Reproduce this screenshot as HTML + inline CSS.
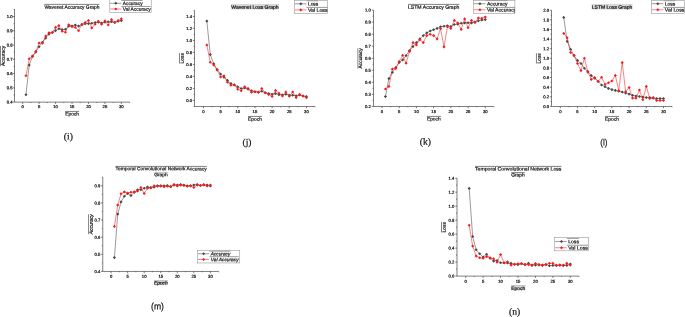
<!DOCTYPE html>
<html><head><meta charset="utf-8"><title>Figure</title>
<style>
html,body{margin:0;padding:0;background:#fff;}
svg{display:block;font-family:"Liberation Sans",sans-serif;}
svg text{fill:#111;stroke:#111;stroke-width:0.2px;}
svg text.t{stroke-width:0.22px;}
</style></head>
<body>
<svg width="685" height="317" viewBox="0 0 685 317">
<rect width="685" height="317" fill="#fff"/>
<g><path d="M14.5 9.10V102.15H129.61" fill="none" stroke="#2a2a2a" stroke-width="0.6"/>
<path d="M22.65 102.15v1.8M39.10 102.15v1.8M55.56 102.15v1.8M72.02 102.15v1.8M88.47 102.15v1.8M104.92 102.15v1.8M121.38 102.15v1.8M30.88 102.15v0.8M47.33 102.15v0.8M63.79 102.15v0.8M80.24 102.15v0.8M96.70 102.15v0.8M113.15 102.15v0.8M129.61 102.15v0.8M14.5 16.55h-1.7M14.5 30.81h-1.7M14.5 45.07h-1.7M14.5 59.33h-1.7M14.5 73.58h-1.7M14.5 87.84h-1.7M14.5 102.10h-1.7M14.5 23.68h-0.9M14.5 37.94h-0.9M14.5 52.20h-0.9M14.5 66.45h-0.9M14.5 80.71h-0.9M14.5 94.97h-0.9M14.5 9.42h-0.9" fill="none" stroke="#2a2a2a" stroke-width="0.6"/>
<text x="22.65" y="108.05" transform="rotate(0.06 22.65 108.05)" font-size="4.2" text-anchor="middle" class="t">0</text>
<text x="39.10" y="108.05" transform="rotate(0.06 39.10 108.05)" font-size="4.2" text-anchor="middle" class="t">5</text>
<text x="55.56" y="108.05" transform="rotate(0.06 55.56 108.05)" font-size="4.2" text-anchor="middle" class="t">10</text>
<text x="72.02" y="108.05" transform="rotate(0.06 72.02 108.05)" font-size="4.2" text-anchor="middle" class="t">15</text>
<text x="88.47" y="108.05" transform="rotate(0.06 88.47 108.05)" font-size="4.2" text-anchor="middle" class="t">20</text>
<text x="104.92" y="108.05" transform="rotate(0.06 104.92 108.05)" font-size="4.2" text-anchor="middle" class="t">25</text>
<text x="121.38" y="108.05" transform="rotate(0.06 121.38 108.05)" font-size="4.2" text-anchor="middle" class="t">30</text>
<text x="12.50" y="18.05" transform="rotate(0.06 12.50 18.05)" font-size="4.2" text-anchor="end" class="t">1.0</text>
<text x="12.50" y="32.31" transform="rotate(0.06 12.50 32.31)" font-size="4.2" text-anchor="end" class="t">0.9</text>
<text x="12.50" y="46.57" transform="rotate(0.06 12.50 46.57)" font-size="4.2" text-anchor="end" class="t">0.8</text>
<text x="12.50" y="60.83" transform="rotate(0.06 12.50 60.83)" font-size="4.2" text-anchor="end" class="t">0.7</text>
<text x="12.50" y="75.08" transform="rotate(0.06 12.50 75.08)" font-size="4.2" text-anchor="end" class="t">0.6</text>
<text x="12.50" y="89.34" transform="rotate(0.06 12.50 89.34)" font-size="4.2" text-anchor="end" class="t">0.5</text>
<text x="12.50" y="103.60" transform="rotate(0.06 12.50 103.60)" font-size="4.2" text-anchor="end" class="t">0.4</text>
<path d="M25.94 94.80L29.23 65.10L32.52 56.00L35.81 51.50L39.10 46.70L42.40 42.20L45.69 38.10L48.98 34.10L52.27 32.50L55.56 30.60L58.85 28.80L62.14 29.60L65.43 29.30L68.72 26.10L72.02 26.10L75.31 25.00L78.60 26.10L81.89 24.80L85.18 23.70L88.47 23.60L91.76 23.30L95.05 22.50L98.34 22.10L101.63 23.10L104.92 22.10L108.22 21.80L111.51 21.70L114.80 22.50L118.09 21.30L121.38 20.60" fill="none" stroke="#484848" stroke-width="0.55" stroke-linejoin="round"/>
<path d="M24.39 94.80L25.94 93.25L27.49 94.80L25.94 96.35ZM27.68 65.10L29.23 63.55L30.78 65.10L29.23 66.65ZM30.97 56.00L32.52 54.45L34.07 56.00L32.52 57.55ZM34.26 51.50L35.81 49.95L37.36 51.50L35.81 53.05ZM37.55 46.70L39.10 45.15L40.65 46.70L39.10 48.25ZM40.85 42.20L42.40 40.65L43.95 42.20L42.40 43.75ZM44.14 38.10L45.69 36.55L47.24 38.10L45.69 39.65ZM47.43 34.10L48.98 32.55L50.53 34.10L48.98 35.65ZM50.72 32.50L52.27 30.95L53.82 32.50L52.27 34.05ZM54.01 30.60L55.56 29.05L57.11 30.60L55.56 32.15ZM57.30 28.80L58.85 27.25L60.40 28.80L58.85 30.35ZM60.59 29.60L62.14 28.05L63.69 29.60L62.14 31.15ZM63.88 29.30L65.43 27.75L66.98 29.30L65.43 30.85ZM67.17 26.10L68.72 24.55L70.27 26.10L68.72 27.65ZM70.47 26.10L72.02 24.55L73.56 26.10L72.02 27.65ZM73.76 25.00L75.31 23.45L76.86 25.00L75.31 26.55ZM77.05 26.10L78.60 24.55L80.15 26.10L78.60 27.65ZM80.34 24.80L81.89 23.25L83.44 24.80L81.89 26.35ZM83.63 23.70L85.18 22.15L86.73 23.70L85.18 25.25ZM86.92 23.60L88.47 22.05L90.02 23.60L88.47 25.15ZM90.21 23.30L91.76 21.75L93.31 23.30L91.76 24.85ZM93.50 22.50L95.05 20.95L96.60 22.50L95.05 24.05ZM96.79 22.10L98.34 20.55L99.89 22.10L98.34 23.65ZM100.08 23.10L101.63 21.55L103.18 23.10L101.63 24.65ZM103.37 22.10L104.92 20.55L106.47 22.10L104.92 23.65ZM106.67 21.80L108.22 20.25L109.77 21.80L108.22 23.35ZM109.96 21.70L111.51 20.15L113.06 21.70L111.51 23.25ZM113.25 22.50L114.80 20.95L116.35 22.50L114.80 24.05ZM116.54 21.30L118.09 19.75L119.64 21.30L118.09 22.85ZM119.83 20.60L121.38 19.05L122.93 20.60L121.38 22.15Z" fill="#484848" stroke="none"/>
<path d="M25.94 75.80L29.23 58.70L32.52 56.60L35.81 52.10L39.10 43.00L42.40 43.30L45.69 36.00L48.98 32.80L52.27 32.50L55.56 27.40L58.85 25.60L62.14 31.20L65.43 32.20L68.72 24.80L72.02 26.60L75.31 27.40L78.60 30.70L81.89 24.20L85.18 22.50L88.47 20.50L91.76 27.90L95.05 24.20L98.34 21.30L101.63 24.20L104.92 20.90L108.22 25.00L111.51 19.60L114.80 22.20L118.09 20.60L121.38 18.80" fill="none" stroke="#f41c1c" stroke-width="0.55" stroke-linejoin="round"/>
<path d="M24.39 75.80L25.94 74.25L27.49 75.80L25.94 77.35ZM27.68 58.70L29.23 57.15L30.78 58.70L29.23 60.25ZM30.97 56.60L32.52 55.05L34.07 56.60L32.52 58.15ZM34.26 52.10L35.81 50.55L37.36 52.10L35.81 53.65ZM37.55 43.00L39.10 41.45L40.65 43.00L39.10 44.55ZM40.85 43.30L42.40 41.75L43.95 43.30L42.40 44.85ZM44.14 36.00L45.69 34.45L47.24 36.00L45.69 37.55ZM47.43 32.80L48.98 31.25L50.53 32.80L48.98 34.35ZM50.72 32.50L52.27 30.95L53.82 32.50L52.27 34.05ZM54.01 27.40L55.56 25.85L57.11 27.40L55.56 28.95ZM57.30 25.60L58.85 24.05L60.40 25.60L58.85 27.15ZM60.59 31.20L62.14 29.65L63.69 31.20L62.14 32.75ZM63.88 32.20L65.43 30.65L66.98 32.20L65.43 33.75ZM67.17 24.80L68.72 23.25L70.27 24.80L68.72 26.35ZM70.47 26.60L72.02 25.05L73.56 26.60L72.02 28.15ZM73.76 27.40L75.31 25.85L76.86 27.40L75.31 28.95ZM77.05 30.70L78.60 29.15L80.15 30.70L78.60 32.25ZM80.34 24.20L81.89 22.65L83.44 24.20L81.89 25.75ZM83.63 22.50L85.18 20.95L86.73 22.50L85.18 24.05ZM86.92 20.50L88.47 18.95L90.02 20.50L88.47 22.05ZM90.21 27.90L91.76 26.35L93.31 27.90L91.76 29.45ZM93.50 24.20L95.05 22.65L96.60 24.20L95.05 25.75ZM96.79 21.30L98.34 19.75L99.89 21.30L98.34 22.85ZM100.08 24.20L101.63 22.65L103.18 24.20L101.63 25.75ZM103.37 20.90L104.92 19.35L106.47 20.90L104.92 22.45ZM106.67 25.00L108.22 23.45L109.77 25.00L108.22 26.55ZM109.96 19.60L111.51 18.05L113.06 19.60L111.51 21.15ZM113.25 22.20L114.80 20.65L116.35 22.20L114.80 23.75ZM116.54 20.60L118.09 19.05L119.64 20.60L118.09 22.15ZM119.83 18.80L121.38 17.25L122.93 18.80L121.38 20.35Z" fill="#f41c1c" stroke="none"/>
<path d="M65.10 111.45h14" stroke="#2a2a2a" stroke-width="0.6"/>
<text x="72.10" y="115.60" transform="rotate(0.06 72.10 115.60)" font-size="4.8" text-anchor="middle" textLength="13.8" lengthAdjust="spacingAndGlyphs">Epoch</text>
<text transform="translate(4.70 56) rotate(-89.94)" font-size="4.8" text-anchor="middle" textLength="20.2" lengthAdjust="spacingAndGlyphs">Accuracy</text>
<path d="M0.50 45.90V66.10" fill="none" stroke="#2a2a2a" stroke-width="0.6"/>
<text x="71.90" y="8.85" transform="rotate(0.06 71.90 8.85)" font-size="4.8" text-anchor="middle" textLength="55" lengthAdjust="spacingAndGlyphs">Wavenet Accuracy Graph</text>
<path d="M44.40 4.40h55" stroke="#2a2a2a" stroke-width="0.6"/>
<clipPath id="cl109"><rect x="109.8" y="-1" width="41.40" height="13.30"/></clipPath>
<rect x="109.8" y="-1" width="41.40" height="13.30" fill="#fff" stroke="#909090" stroke-width="0.55"/>
<g clip-path="url(#cl109)">
<path d="M110.30 3.3H121.30" stroke="#484848" stroke-width="0.55"/>
<path d="M114.25 3.30L115.80 1.75L117.35 3.30L115.80 4.85Z" fill="#484848"/>
<text x="122.80" y="5.05" transform="rotate(0.06 122.80 5.05)" font-size="4.8" text-anchor="start" textLength="19.8" lengthAdjust="spacingAndGlyphs">Accuracy</text>
<path d="M121.40 0.40h21.2" stroke="#888" stroke-width="0.9"/>
<path d="M110.30 9.0H121.30" stroke="#f41c1c" stroke-width="0.55"/>
<path d="M114.25 9.00L115.80 7.45L117.35 9.00L115.80 10.55Z" fill="#f41c1c"/>
<text x="122.80" y="10.75" transform="rotate(0.06 122.80 10.75)" font-size="4.8" text-anchor="start" textLength="27.8" lengthAdjust="spacingAndGlyphs">Val Accuracy</text>
<path d="M121.40 6.45h29.2" stroke="#444" stroke-width="0.55"/>
</g>
<text x="68.35" y="139.5" transform="rotate(0.06 68.35 139.5)" font-size="9.6" font-family='"Liberation Serif",serif' text-anchor="middle" stroke="none">(i)</text></g>
<g><path d="M194.5 10.40V106.5H315.04" fill="none" stroke="#2a2a2a" stroke-width="0.6"/>
<path d="M203.40 106.5v1.8M220.58 106.5v1.8M237.75 106.5v1.8M254.93 106.5v1.8M272.10 106.5v1.8M289.27 106.5v1.8M306.45 106.5v1.8M211.99 106.5v0.8M229.16 106.5v0.8M246.34 106.5v0.8M263.51 106.5v0.8M280.69 106.5v0.8M297.86 106.5v0.8M315.04 106.5v0.8M194.5 16.43h-1.7M194.5 28.43h-1.7M194.5 40.44h-1.7M194.5 52.44h-1.7M194.5 64.44h-1.7M194.5 76.44h-1.7M194.5 88.45h-1.7M194.5 100.45h-1.7M194.5 22.43h-0.9M194.5 34.43h-0.9M194.5 46.44h-0.9M194.5 58.44h-0.9M194.5 70.44h-0.9M194.5 82.45h-0.9M194.5 94.45h-0.9M194.5 106.45h-0.9M194.5 10.43h-0.9" fill="none" stroke="#2a2a2a" stroke-width="0.6"/>
<text x="203.40" y="113.10" transform="rotate(0.06 203.40 113.10)" font-size="4.2" text-anchor="middle" class="t">0</text>
<text x="220.58" y="113.10" transform="rotate(0.06 220.58 113.10)" font-size="4.2" text-anchor="middle" class="t">5</text>
<text x="237.75" y="113.10" transform="rotate(0.06 237.75 113.10)" font-size="4.2" text-anchor="middle" class="t">10</text>
<text x="254.93" y="113.10" transform="rotate(0.06 254.93 113.10)" font-size="4.2" text-anchor="middle" class="t">15</text>
<text x="272.10" y="113.10" transform="rotate(0.06 272.10 113.10)" font-size="4.2" text-anchor="middle" class="t">20</text>
<text x="289.27" y="113.10" transform="rotate(0.06 289.27 113.10)" font-size="4.2" text-anchor="middle" class="t">25</text>
<text x="306.45" y="113.10" transform="rotate(0.06 306.45 113.10)" font-size="4.2" text-anchor="middle" class="t">30</text>
<text x="192.00" y="17.93" transform="rotate(0.06 192.00 17.93)" font-size="4.2" text-anchor="end" class="t">1.4</text>
<text x="192.00" y="29.93" transform="rotate(0.06 192.00 29.93)" font-size="4.2" text-anchor="end" class="t">1.2</text>
<text x="192.00" y="41.94" transform="rotate(0.06 192.00 41.94)" font-size="4.2" text-anchor="end" class="t">1.0</text>
<text x="192.00" y="53.94" transform="rotate(0.06 192.00 53.94)" font-size="4.2" text-anchor="end" class="t">0.8</text>
<text x="192.00" y="65.94" transform="rotate(0.06 192.00 65.94)" font-size="4.2" text-anchor="end" class="t">0.6</text>
<text x="192.00" y="77.94" transform="rotate(0.06 192.00 77.94)" font-size="4.2" text-anchor="end" class="t">0.4</text>
<text x="192.00" y="89.95" transform="rotate(0.06 192.00 89.95)" font-size="4.2" text-anchor="end" class="t">0.2</text>
<text x="192.00" y="101.95" transform="rotate(0.06 192.00 101.95)" font-size="4.2" text-anchor="end" class="t">0.0</text>
<path d="M206.84 21.10L210.27 54.60L213.71 63.80L217.14 69.50L220.58 74.00L224.01 77.20L227.44 80.40L230.88 83.50L234.31 85.00L237.75 86.70L241.19 88.50L244.62 88.00L248.06 89.10L251.49 90.70L254.93 91.70L258.36 92.30L261.80 91.30L265.23 92.80L268.67 93.60L272.10 94.20L275.54 93.60L278.97 94.70L282.40 94.90L285.84 94.20L289.27 95.20L292.71 95.20L296.14 95.70L299.58 94.90L303.01 96.00L306.45 96.50" fill="none" stroke="#484848" stroke-width="0.55" stroke-linejoin="round"/>
<path d="M205.28 21.10L206.84 19.55L208.39 21.10L206.84 22.65ZM208.72 54.60L210.27 53.05L211.82 54.60L210.27 56.15ZM212.16 63.80L213.71 62.25L215.26 63.80L213.71 65.35ZM215.59 69.50L217.14 67.95L218.69 69.50L217.14 71.05ZM219.03 74.00L220.58 72.45L222.13 74.00L220.58 75.55ZM222.46 77.20L224.01 75.65L225.56 77.20L224.01 78.75ZM225.89 80.40L227.44 78.85L229.00 80.40L227.44 81.95ZM229.33 83.50L230.88 81.95L232.43 83.50L230.88 85.05ZM232.76 85.00L234.31 83.45L235.87 85.00L234.31 86.55ZM236.20 86.70L237.75 85.15L239.30 86.70L237.75 88.25ZM239.63 88.50L241.19 86.95L242.74 88.50L241.19 90.05ZM243.07 88.00L244.62 86.45L246.17 88.00L244.62 89.55ZM246.50 89.10L248.06 87.55L249.61 89.10L248.06 90.65ZM249.94 90.70L251.49 89.15L253.04 90.70L251.49 92.25ZM253.38 91.70L254.93 90.15L256.48 91.70L254.93 93.25ZM256.81 92.30L258.36 90.75L259.91 92.30L258.36 93.85ZM260.25 91.30L261.80 89.75L263.35 91.30L261.80 92.85ZM263.68 92.80L265.23 91.25L266.78 92.80L265.23 94.35ZM267.12 93.60L268.67 92.05L270.22 93.60L268.67 95.15ZM270.55 94.20L272.10 92.65L273.65 94.20L272.10 95.75ZM273.99 93.60L275.54 92.05L277.09 93.60L275.54 95.15ZM277.42 94.70L278.97 93.15L280.52 94.70L278.97 96.25ZM280.85 94.90L282.40 93.35L283.95 94.90L282.40 96.45ZM284.29 94.20L285.84 92.65L287.39 94.20L285.84 95.75ZM287.72 95.20L289.27 93.65L290.82 95.20L289.27 96.75ZM291.16 95.20L292.71 93.65L294.26 95.20L292.71 96.75ZM294.59 95.70L296.14 94.15L297.69 95.70L296.14 97.25ZM298.03 94.90L299.58 93.35L301.13 94.90L299.58 96.45ZM301.46 96.00L303.01 94.45L304.56 96.00L303.01 97.55ZM304.90 96.50L306.45 94.95L308.00 96.50L306.45 98.05Z" fill="#484848" stroke="none"/>
<path d="M206.84 45.00L210.27 62.20L213.71 65.00L217.14 70.00L220.58 77.00L224.01 75.90L227.44 82.30L230.88 85.20L234.31 84.80L237.75 89.30L241.19 90.70L244.62 86.80L248.06 88.50L251.49 92.30L254.93 91.70L258.36 92.30L261.80 88.50L265.23 92.80L268.67 94.40L272.10 96.50L275.54 90.40L278.97 93.30L282.40 96.00L285.84 92.00L289.27 96.30L292.71 92.00L296.14 97.60L299.58 94.40L303.01 96.00L306.45 97.70" fill="none" stroke="#f41c1c" stroke-width="0.55" stroke-linejoin="round"/>
<path d="M205.28 45.00L206.84 43.45L208.39 45.00L206.84 46.55ZM208.72 62.20L210.27 60.65L211.82 62.20L210.27 63.75ZM212.16 65.00L213.71 63.45L215.26 65.00L213.71 66.55ZM215.59 70.00L217.14 68.45L218.69 70.00L217.14 71.55ZM219.03 77.00L220.58 75.45L222.13 77.00L220.58 78.55ZM222.46 75.90L224.01 74.35L225.56 75.90L224.01 77.45ZM225.89 82.30L227.44 80.75L229.00 82.30L227.44 83.85ZM229.33 85.20L230.88 83.65L232.43 85.20L230.88 86.75ZM232.76 84.80L234.31 83.25L235.87 84.80L234.31 86.35ZM236.20 89.30L237.75 87.75L239.30 89.30L237.75 90.85ZM239.63 90.70L241.19 89.15L242.74 90.70L241.19 92.25ZM243.07 86.80L244.62 85.25L246.17 86.80L244.62 88.35ZM246.50 88.50L248.06 86.95L249.61 88.50L248.06 90.05ZM249.94 92.30L251.49 90.75L253.04 92.30L251.49 93.85ZM253.38 91.70L254.93 90.15L256.48 91.70L254.93 93.25ZM256.81 92.30L258.36 90.75L259.91 92.30L258.36 93.85ZM260.25 88.50L261.80 86.95L263.35 88.50L261.80 90.05ZM263.68 92.80L265.23 91.25L266.78 92.80L265.23 94.35ZM267.12 94.40L268.67 92.85L270.22 94.40L268.67 95.95ZM270.55 96.50L272.10 94.95L273.65 96.50L272.10 98.05ZM273.99 90.40L275.54 88.85L277.09 90.40L275.54 91.95ZM277.42 93.30L278.97 91.75L280.52 93.30L278.97 94.85ZM280.85 96.00L282.40 94.45L283.95 96.00L282.40 97.55ZM284.29 92.00L285.84 90.45L287.39 92.00L285.84 93.55ZM287.72 96.30L289.27 94.75L290.82 96.30L289.27 97.85ZM291.16 92.00L292.71 90.45L294.26 92.00L292.71 93.55ZM294.59 97.60L296.14 96.05L297.69 97.60L296.14 99.15ZM298.03 94.40L299.58 92.85L301.13 94.40L299.58 95.95ZM301.46 96.00L303.01 94.45L304.56 96.00L303.01 97.55ZM304.90 97.70L306.45 96.15L308.00 97.70L306.45 99.25Z" fill="#f41c1c" stroke="none"/>
<path d="M247.95 116.45h14" stroke="#2a2a2a" stroke-width="0.6"/>
<text x="254.95" y="120.80" transform="rotate(0.06 254.95 120.80)" font-size="4.8" text-anchor="middle" textLength="13.8" lengthAdjust="spacingAndGlyphs">Epoch</text>
<text transform="translate(183.65 58.3) rotate(-89.94)" font-size="4.8" text-anchor="middle" textLength="10.4" lengthAdjust="spacingAndGlyphs">Loss</text>
<path d="M179.45 53.10V63.50" fill="none" stroke="#2a2a2a" stroke-width="0.6"/>
<rect x="231.00" y="3.90" width="48.00" height="5.6" fill="#d8d8d8"/>
<text x="255.00" y="8.75" transform="rotate(0.06 255.00 8.75)" font-size="4.8" text-anchor="middle" textLength="47.4" lengthAdjust="spacingAndGlyphs">Wavenet Loss Graph</text>
<clipPath id="cl294"><rect x="294.4" y="0.3" width="33.30" height="13.10"/></clipPath>
<rect x="294.4" y="0.3" width="33.30" height="13.10" fill="#fff" stroke="#909090" stroke-width="0.55"/>
<g clip-path="url(#cl294)">
<path d="M294.90 3.85H306.40" stroke="#484848" stroke-width="0.55"/>
<path d="M299.25 3.85L300.80 2.30L302.35 3.85L300.80 5.40Z" fill="#484848"/>
<text x="307.90" y="5.60" transform="rotate(0.06 307.90 5.60)" font-size="4.8" text-anchor="start" textLength="10.4" lengthAdjust="spacingAndGlyphs">Loss</text>
<path d="M306.50 0.80h11.8" stroke="#888" stroke-width="0.9"/>
<path d="M294.90 9.9H306.40" stroke="#f41c1c" stroke-width="0.55"/>
<path d="M299.25 9.90L300.80 8.35L302.35 9.90L300.80 11.45Z" fill="#f41c1c"/>
<text x="307.90" y="11.65" transform="rotate(0.06 307.90 11.65)" font-size="4.8" text-anchor="start" textLength="19.7" lengthAdjust="spacingAndGlyphs">Val Loss</text>
<path d="M306.50 7.40h21.099999999999998" stroke="#444" stroke-width="0.55"/>
</g>
<text x="247" y="145.3" transform="rotate(0.06 247 145.3)" font-size="9.5" font-family='"Liberation Serif",serif' text-anchor="middle" stroke="none">(j)</text></g>
<g><path d="M373.5 10.10V106.5H493.90" fill="none" stroke="#2a2a2a" stroke-width="0.6"/>
<path d="M382.00 106.5v1.8M399.21 106.5v1.8M416.43 106.5v1.8M433.64 106.5v1.8M450.86 106.5v1.8M468.07 106.5v1.8M485.29 106.5v1.8M390.61 106.5v0.8M407.82 106.5v0.8M425.04 106.5v0.8M442.25 106.5v0.8M459.47 106.5v0.8M476.68 106.5v0.8M493.90 106.5v0.8M373.5 10.10h-1.7M373.5 22.14h-1.7M373.5 34.18h-1.7M373.5 46.21h-1.7M373.5 58.25h-1.7M373.5 70.29h-1.7M373.5 82.33h-1.7M373.5 94.36h-1.7M373.5 106.40h-1.7M373.5 16.12h-0.9M373.5 28.16h-0.9M373.5 40.19h-0.9M373.5 52.23h-0.9M373.5 64.27h-0.9M373.5 76.31h-0.9M373.5 88.34h-0.9M373.5 100.38h-0.9" fill="none" stroke="#2a2a2a" stroke-width="0.6"/>
<text x="382.00" y="112.90" transform="rotate(0.06 382.00 112.90)" font-size="4.2" text-anchor="middle" class="t">0</text>
<text x="399.21" y="112.90" transform="rotate(0.06 399.21 112.90)" font-size="4.2" text-anchor="middle" class="t">5</text>
<text x="416.43" y="112.90" transform="rotate(0.06 416.43 112.90)" font-size="4.2" text-anchor="middle" class="t">10</text>
<text x="433.64" y="112.90" transform="rotate(0.06 433.64 112.90)" font-size="4.2" text-anchor="middle" class="t">15</text>
<text x="450.86" y="112.90" transform="rotate(0.06 450.86 112.90)" font-size="4.2" text-anchor="middle" class="t">20</text>
<text x="468.07" y="112.90" transform="rotate(0.06 468.07 112.90)" font-size="4.2" text-anchor="middle" class="t">25</text>
<text x="485.29" y="112.90" transform="rotate(0.06 485.29 112.90)" font-size="4.2" text-anchor="middle" class="t">30</text>
<text x="370.80" y="11.60" transform="rotate(0.06 370.80 11.60)" font-size="4.2" text-anchor="end" class="t">1.0</text>
<text x="370.80" y="23.64" transform="rotate(0.06 370.80 23.64)" font-size="4.2" text-anchor="end" class="t">0.9</text>
<text x="370.80" y="35.68" transform="rotate(0.06 370.80 35.68)" font-size="4.2" text-anchor="end" class="t">0.8</text>
<text x="370.80" y="47.71" transform="rotate(0.06 370.80 47.71)" font-size="4.2" text-anchor="end" class="t">0.7</text>
<text x="370.80" y="59.75" transform="rotate(0.06 370.80 59.75)" font-size="4.2" text-anchor="end" class="t">0.6</text>
<text x="370.80" y="71.79" transform="rotate(0.06 370.80 71.79)" font-size="4.2" text-anchor="end" class="t">0.5</text>
<text x="370.80" y="83.83" transform="rotate(0.06 370.80 83.83)" font-size="4.2" text-anchor="end" class="t">0.4</text>
<text x="370.80" y="95.86" transform="rotate(0.06 370.80 95.86)" font-size="4.2" text-anchor="end" class="t">0.3</text>
<text x="370.80" y="107.90" transform="rotate(0.06 370.80 107.90)" font-size="4.2" text-anchor="end" class="t">0.2</text>
<path d="M385.44 96.60L388.89 78.60L392.33 72.40L395.77 67.60L399.21 62.50L402.66 59.90L406.10 55.60L409.54 50.60L412.99 46.60L416.43 42.60L419.87 38.90L423.32 35.60L426.76 32.90L430.20 31.00L433.64 29.70L437.09 28.40L440.53 26.80L443.97 26.20L447.42 25.70L450.86 26.50L454.30 24.50L457.75 24.10L461.19 23.30L464.63 22.90L468.07 22.80L471.52 22.90L474.96 22.10L478.40 20.80L481.85 20.00L485.29 19.60" fill="none" stroke="#484848" stroke-width="0.55" stroke-linejoin="round"/>
<path d="M383.89 96.60L385.44 95.05L386.99 96.60L385.44 98.15ZM387.34 78.60L388.89 77.05L390.44 78.60L388.89 80.15ZM390.78 72.40L392.33 70.85L393.88 72.40L392.33 73.95ZM394.22 67.60L395.77 66.05L397.32 67.60L395.77 69.15ZM397.66 62.50L399.21 60.95L400.76 62.50L399.21 64.05ZM401.11 59.90L402.66 58.35L404.21 59.90L402.66 61.45ZM404.55 55.60L406.10 54.05L407.65 55.60L406.10 57.15ZM407.99 50.60L409.54 49.05L411.09 50.60L409.54 52.15ZM411.44 46.60L412.99 45.05L414.54 46.60L412.99 48.15ZM414.88 42.60L416.43 41.05L417.98 42.60L416.43 44.15ZM418.32 38.90L419.87 37.35L421.42 38.90L419.87 40.45ZM421.77 35.60L423.32 34.05L424.87 35.60L423.32 37.15ZM425.21 32.90L426.76 31.35L428.31 32.90L426.76 34.45ZM428.65 31.00L430.20 29.45L431.75 31.00L430.20 32.55ZM432.09 29.70L433.64 28.15L435.19 29.70L433.64 31.25ZM435.54 28.40L437.09 26.85L438.64 28.40L437.09 29.95ZM438.98 26.80L440.53 25.25L442.08 26.80L440.53 28.35ZM442.42 26.20L443.97 24.65L445.52 26.20L443.97 27.75ZM445.87 25.70L447.42 24.15L448.97 25.70L447.42 27.25ZM449.31 26.50L450.86 24.95L452.41 26.50L450.86 28.05ZM452.75 24.50L454.30 22.95L455.85 24.50L454.30 26.05ZM456.20 24.10L457.75 22.55L459.30 24.10L457.75 25.65ZM459.64 23.30L461.19 21.75L462.74 23.30L461.19 24.85ZM463.08 22.90L464.63 21.35L466.18 22.90L464.63 24.45ZM466.52 22.80L468.07 21.25L469.62 22.80L468.07 24.35ZM469.97 22.90L471.52 21.35L473.07 22.90L471.52 24.45ZM473.41 22.10L474.96 20.55L476.51 22.10L474.96 23.65ZM476.85 20.80L478.40 19.25L479.95 20.80L478.40 22.35ZM480.30 20.00L481.85 18.45L483.40 20.00L481.85 21.55ZM483.74 19.60L485.29 18.05L486.84 19.60L485.29 21.15Z" fill="#484848" stroke="none"/>
<path d="M385.44 89.00L388.89 86.40L392.33 69.00L395.77 68.40L399.21 61.60L402.66 55.30L406.10 63.30L409.54 51.40L412.99 42.60L416.43 45.00L419.87 39.70L423.32 42.60L426.76 35.60L430.20 34.20L433.64 35.60L437.09 38.90L440.53 28.60L443.97 46.90L447.42 26.80L450.86 28.40L454.30 20.40L457.75 22.90L461.19 29.40L464.63 18.90L468.07 27.80L471.52 20.40L474.96 22.50L478.40 18.10L481.85 18.40L485.29 17.10" fill="none" stroke="#f41c1c" stroke-width="0.55" stroke-linejoin="round"/>
<path d="M383.89 89.00L385.44 87.45L386.99 89.00L385.44 90.55ZM387.34 86.40L388.89 84.85L390.44 86.40L388.89 87.95ZM390.78 69.00L392.33 67.45L393.88 69.00L392.33 70.55ZM394.22 68.40L395.77 66.85L397.32 68.40L395.77 69.95ZM397.66 61.60L399.21 60.05L400.76 61.60L399.21 63.15ZM401.11 55.30L402.66 53.75L404.21 55.30L402.66 56.85ZM404.55 63.30L406.10 61.75L407.65 63.30L406.10 64.85ZM407.99 51.40L409.54 49.85L411.09 51.40L409.54 52.95ZM411.44 42.60L412.99 41.05L414.54 42.60L412.99 44.15ZM414.88 45.00L416.43 43.45L417.98 45.00L416.43 46.55ZM418.32 39.70L419.87 38.15L421.42 39.70L419.87 41.25ZM421.77 42.60L423.32 41.05L424.87 42.60L423.32 44.15ZM425.21 35.60L426.76 34.05L428.31 35.60L426.76 37.15ZM428.65 34.20L430.20 32.65L431.75 34.20L430.20 35.75ZM432.09 35.60L433.64 34.05L435.19 35.60L433.64 37.15ZM435.54 38.90L437.09 37.35L438.64 38.90L437.09 40.45ZM438.98 28.60L440.53 27.05L442.08 28.60L440.53 30.15ZM442.42 46.90L443.97 45.35L445.52 46.90L443.97 48.45ZM445.87 26.80L447.42 25.25L448.97 26.80L447.42 28.35ZM449.31 28.40L450.86 26.85L452.41 28.40L450.86 29.95ZM452.75 20.40L454.30 18.85L455.85 20.40L454.30 21.95ZM456.20 22.90L457.75 21.35L459.30 22.90L457.75 24.45ZM459.64 29.40L461.19 27.85L462.74 29.40L461.19 30.95ZM463.08 18.90L464.63 17.35L466.18 18.90L464.63 20.45ZM466.52 27.80L468.07 26.25L469.62 27.80L468.07 29.35ZM469.97 20.40L471.52 18.85L473.07 20.40L471.52 21.95ZM473.41 22.50L474.96 20.95L476.51 22.50L474.96 24.05ZM476.85 18.10L478.40 16.55L479.95 18.10L478.40 19.65ZM480.30 18.40L481.85 16.85L483.40 18.40L481.85 19.95ZM483.74 17.10L485.29 15.55L486.84 17.10L485.29 18.65Z" fill="#f41c1c" stroke="none"/>
<path d="M426.80 116.40h14" stroke="#2a2a2a" stroke-width="0.6"/>
<text x="433.80" y="120.60" transform="rotate(0.06 433.80 120.60)" font-size="4.8" text-anchor="middle" textLength="13.8" lengthAdjust="spacingAndGlyphs">Epoch</text>
<text transform="translate(362.10 58.4) rotate(-89.94)" font-size="4.8" text-anchor="middle" textLength="20.4" lengthAdjust="spacingAndGlyphs">Accuracy</text>
<path d="M357.90 48.20V68.60" fill="none" stroke="#2a2a2a" stroke-width="0.6"/>
<text x="433.70" y="8.85" transform="rotate(0.06 433.70 8.85)" font-size="4.8" text-anchor="middle" textLength="51.4" lengthAdjust="spacingAndGlyphs">LSTM Accuracy Graph</text>
<path d="M408.00 4.40h51.4" stroke="#2a2a2a" stroke-width="0.6"/>
<clipPath id="cl473"><rect x="473.3" y="0.3" width="41.60" height="13.10"/></clipPath>
<rect x="473.3" y="0.3" width="41.60" height="13.10" fill="#fff" stroke="#909090" stroke-width="0.55"/>
<g clip-path="url(#cl473)">
<path d="M473.80 3.7H485.40" stroke="#484848" stroke-width="0.55"/>
<path d="M478.35 3.70L479.90 2.15L481.45 3.70L479.90 5.25Z" fill="#484848"/>
<text x="486.90" y="5.45" transform="rotate(0.06 486.90 5.45)" font-size="4.8" text-anchor="start" textLength="20.6" lengthAdjust="spacingAndGlyphs">Accuracy</text>
<path d="M485.50 0.60h22.0" stroke="#888" stroke-width="0.9"/>
<path d="M473.80 9.8H485.40" stroke="#f41c1c" stroke-width="0.55"/>
<path d="M478.35 9.80L479.90 8.25L481.45 9.80L479.90 11.35Z" fill="#f41c1c"/>
<text x="486.90" y="11.55" transform="rotate(0.06 486.90 11.55)" font-size="4.8" text-anchor="start" textLength="29.4" lengthAdjust="spacingAndGlyphs">Val Accuracy</text>
<path d="M485.50 7.40h30.799999999999997" stroke="#444" stroke-width="0.55"/>
</g>
<text x="425.4" y="144.7" transform="rotate(0.06 425.4 144.7)" font-size="9.6" font-family='"Liberation Serif",serif' text-anchor="middle" stroke="none">(k)</text></g>
<g><path d="M551.5 10.30V106.5H672.10" fill="none" stroke="#2a2a2a" stroke-width="0.6"/>
<path d="M560.30 106.5v1.8M577.50 106.5v1.8M594.70 106.5v1.8M611.90 106.5v1.8M629.10 106.5v1.8M646.30 106.5v1.8M663.50 106.5v1.8M568.90 106.5v0.8M586.10 106.5v0.8M603.30 106.5v0.8M620.50 106.5v0.8M637.70 106.5v0.8M654.90 106.5v0.8M672.10 106.5v0.8M551.5 10.30h-1.7M551.5 19.91h-1.7M551.5 29.52h-1.7M551.5 39.13h-1.7M551.5 48.74h-1.7M551.5 58.35h-1.7M551.5 67.96h-1.7M551.5 77.57h-1.7M551.5 87.18h-1.7M551.5 96.79h-1.7M551.5 106.40h-1.7M551.5 15.11h-0.9M551.5 24.72h-0.9M551.5 34.33h-0.9M551.5 43.94h-0.9M551.5 53.55h-0.9M551.5 63.16h-0.9M551.5 72.77h-0.9M551.5 82.38h-0.9M551.5 91.99h-0.9M551.5 101.60h-0.9" fill="none" stroke="#2a2a2a" stroke-width="0.6"/>
<text x="560.30" y="113.10" transform="rotate(0.06 560.30 113.10)" font-size="4.2" text-anchor="middle" class="t">0</text>
<text x="577.50" y="113.10" transform="rotate(0.06 577.50 113.10)" font-size="4.2" text-anchor="middle" class="t">5</text>
<text x="594.70" y="113.10" transform="rotate(0.06 594.70 113.10)" font-size="4.2" text-anchor="middle" class="t">10</text>
<text x="611.90" y="113.10" transform="rotate(0.06 611.90 113.10)" font-size="4.2" text-anchor="middle" class="t">15</text>
<text x="629.10" y="113.10" transform="rotate(0.06 629.10 113.10)" font-size="4.2" text-anchor="middle" class="t">20</text>
<text x="646.30" y="113.10" transform="rotate(0.06 646.30 113.10)" font-size="4.2" text-anchor="middle" class="t">25</text>
<text x="663.50" y="113.10" transform="rotate(0.06 663.50 113.10)" font-size="4.2" text-anchor="middle" class="t">30</text>
<text x="549.10" y="11.80" transform="rotate(0.06 549.10 11.80)" font-size="4.2" text-anchor="end" class="t">2.0</text>
<text x="549.10" y="21.41" transform="rotate(0.06 549.10 21.41)" font-size="4.2" text-anchor="end" class="t">1.8</text>
<text x="549.10" y="31.02" transform="rotate(0.06 549.10 31.02)" font-size="4.2" text-anchor="end" class="t">1.6</text>
<text x="549.10" y="40.63" transform="rotate(0.06 549.10 40.63)" font-size="4.2" text-anchor="end" class="t">1.4</text>
<text x="549.10" y="50.24" transform="rotate(0.06 549.10 50.24)" font-size="4.2" text-anchor="end" class="t">1.2</text>
<text x="549.10" y="59.85" transform="rotate(0.06 549.10 59.85)" font-size="4.2" text-anchor="end" class="t">1.0</text>
<text x="549.10" y="69.46" transform="rotate(0.06 549.10 69.46)" font-size="4.2" text-anchor="end" class="t">0.8</text>
<text x="549.10" y="79.07" transform="rotate(0.06 549.10 79.07)" font-size="4.2" text-anchor="end" class="t">0.6</text>
<text x="549.10" y="88.68" transform="rotate(0.06 549.10 88.68)" font-size="4.2" text-anchor="end" class="t">0.4</text>
<text x="549.10" y="98.29" transform="rotate(0.06 549.10 98.29)" font-size="4.2" text-anchor="end" class="t">0.2</text>
<text x="549.10" y="107.90" transform="rotate(0.06 549.10 107.90)" font-size="4.2" text-anchor="end" class="t">0.0</text>
<path d="M563.74 17.40L567.18 41.40L570.62 49.30L574.06 55.60L577.50 60.40L580.94 63.50L584.38 68.20L587.82 71.90L591.26 75.60L594.70 78.30L598.14 81.50L601.58 85.00L605.02 86.80L608.46 88.40L611.90 89.60L615.34 90.40L618.78 91.20L622.22 92.00L625.66 93.10L629.10 94.10L632.54 95.20L635.98 96.00L639.42 96.50L642.86 97.10L646.30 97.60L649.74 97.60L653.18 98.10L656.62 98.50L660.06 98.50L663.50 98.60" fill="none" stroke="#484848" stroke-width="0.55" stroke-linejoin="round"/>
<path d="M562.19 17.40L563.74 15.85L565.29 17.40L563.74 18.95ZM565.63 41.40L567.18 39.85L568.73 41.40L567.18 42.95ZM569.07 49.30L570.62 47.75L572.17 49.30L570.62 50.85ZM572.51 55.60L574.06 54.05L575.61 55.60L574.06 57.15ZM575.95 60.40L577.50 58.85L579.05 60.40L577.50 61.95ZM579.39 63.50L580.94 61.95L582.49 63.50L580.94 65.05ZM582.83 68.20L584.38 66.65L585.93 68.20L584.38 69.75ZM586.27 71.90L587.82 70.35L589.37 71.90L587.82 73.45ZM589.71 75.60L591.26 74.05L592.81 75.60L591.26 77.15ZM593.15 78.30L594.70 76.75L596.25 78.30L594.70 79.85ZM596.59 81.50L598.14 79.95L599.69 81.50L598.14 83.05ZM600.03 85.00L601.58 83.45L603.13 85.00L601.58 86.55ZM603.47 86.80L605.02 85.25L606.57 86.80L605.02 88.35ZM606.91 88.40L608.46 86.85L610.01 88.40L608.46 89.95ZM610.35 89.60L611.90 88.05L613.45 89.60L611.90 91.15ZM613.79 90.40L615.34 88.85L616.89 90.40L615.34 91.95ZM617.23 91.20L618.78 89.65L620.33 91.20L618.78 92.75ZM620.67 92.00L622.22 90.45L623.77 92.00L622.22 93.55ZM624.11 93.10L625.66 91.55L627.21 93.10L625.66 94.65ZM627.55 94.10L629.10 92.55L630.65 94.10L629.10 95.65ZM630.99 95.20L632.54 93.65L634.09 95.20L632.54 96.75ZM634.43 96.00L635.98 94.45L637.53 96.00L635.98 97.55ZM637.87 96.50L639.42 94.95L640.97 96.50L639.42 98.05ZM641.31 97.10L642.86 95.55L644.41 97.10L642.86 98.65ZM644.75 97.60L646.30 96.05L647.85 97.60L646.30 99.15ZM648.19 97.60L649.74 96.05L651.29 97.60L649.74 99.15ZM651.63 98.10L653.18 96.55L654.73 98.10L653.18 99.65ZM655.07 98.50L656.62 96.95L658.17 98.50L656.62 100.05ZM658.51 98.50L660.06 96.95L661.61 98.50L660.06 100.05ZM661.95 98.60L663.50 97.05L665.05 98.60L663.50 100.15Z" fill="#484848" stroke="none"/>
<path d="M563.74 33.40L567.18 37.70L570.62 52.50L574.06 55.30L577.50 63.50L580.94 70.60L584.38 58.30L587.82 71.60L591.26 79.40L594.70 77.50L598.14 81.50L601.58 77.20L605.02 84.40L608.46 82.70L611.90 81.00L615.34 75.40L618.78 90.70L622.22 62.60L625.66 91.70L629.10 87.50L632.54 98.10L635.98 98.10L639.42 90.00L642.86 99.70L646.30 86.40L649.74 98.40L653.18 97.60L656.62 100.40L660.06 100.40L663.50 100.40" fill="none" stroke="#f41c1c" stroke-width="0.55" stroke-linejoin="round"/>
<path d="M562.19 33.40L563.74 31.85L565.29 33.40L563.74 34.95ZM565.63 37.70L567.18 36.15L568.73 37.70L567.18 39.25ZM569.07 52.50L570.62 50.95L572.17 52.50L570.62 54.05ZM572.51 55.30L574.06 53.75L575.61 55.30L574.06 56.85ZM575.95 63.50L577.50 61.95L579.05 63.50L577.50 65.05ZM579.39 70.60L580.94 69.05L582.49 70.60L580.94 72.15ZM582.83 58.30L584.38 56.75L585.93 58.30L584.38 59.85ZM586.27 71.60L587.82 70.05L589.37 71.60L587.82 73.15ZM589.71 79.40L591.26 77.85L592.81 79.40L591.26 80.95ZM593.15 77.50L594.70 75.95L596.25 77.50L594.70 79.05ZM596.59 81.50L598.14 79.95L599.69 81.50L598.14 83.05ZM600.03 77.20L601.58 75.65L603.13 77.20L601.58 78.75ZM603.47 84.40L605.02 82.85L606.57 84.40L605.02 85.95ZM606.91 82.70L608.46 81.15L610.01 82.70L608.46 84.25ZM610.35 81.00L611.90 79.45L613.45 81.00L611.90 82.55ZM613.79 75.40L615.34 73.85L616.89 75.40L615.34 76.95ZM617.23 90.70L618.78 89.15L620.33 90.70L618.78 92.25ZM620.67 62.60L622.22 61.05L623.77 62.60L622.22 64.15ZM624.11 91.70L625.66 90.15L627.21 91.70L625.66 93.25ZM627.55 87.50L629.10 85.95L630.65 87.50L629.10 89.05ZM630.99 98.10L632.54 96.55L634.09 98.10L632.54 99.65ZM634.43 98.10L635.98 96.55L637.53 98.10L635.98 99.65ZM637.87 90.00L639.42 88.45L640.97 90.00L639.42 91.55ZM641.31 99.70L642.86 98.15L644.41 99.70L642.86 101.25ZM644.75 86.40L646.30 84.85L647.85 86.40L646.30 87.95ZM648.19 98.40L649.74 96.85L651.29 98.40L649.74 99.95ZM651.63 97.60L653.18 96.05L654.73 97.60L653.18 99.15ZM655.07 100.40L656.62 98.85L658.17 100.40L656.62 101.95ZM658.51 100.40L660.06 98.85L661.61 100.40L660.06 101.95ZM661.95 100.40L663.50 98.85L665.05 100.40L663.50 101.95Z" fill="#f41c1c" stroke="none"/>
<path d="M604.95 116.45h14" stroke="#2a2a2a" stroke-width="0.6"/>
<text x="611.95" y="120.80" transform="rotate(0.06 611.95 120.80)" font-size="4.8" text-anchor="middle" textLength="13.8" lengthAdjust="spacingAndGlyphs">Epoch</text>
<text transform="translate(540.65 58.35) rotate(-89.94)" font-size="4.8" text-anchor="middle" textLength="10.3" lengthAdjust="spacingAndGlyphs">Loss</text>
<path d="M536.45 53.20V63.50" fill="none" stroke="#2a2a2a" stroke-width="0.6"/>
<rect x="591.50" y="3.90" width="41.00" height="5.6" fill="#d8d8d8"/>
<text x="612.00" y="8.75" transform="rotate(0.06 612.00 8.75)" font-size="4.8" text-anchor="middle" textLength="40.4" lengthAdjust="spacingAndGlyphs">LSTM Loss Graph</text>
<clipPath id="cl651"><rect x="651.3" y="0.3" width="33.30" height="13.10"/></clipPath>
<rect x="651.3" y="0.3" width="33.30" height="13.10" fill="#fff" stroke="#909090" stroke-width="0.55"/>
<g clip-path="url(#cl651)">
<path d="M651.80 3.7H663.30" stroke="#484848" stroke-width="0.55"/>
<path d="M656.25 3.70L657.80 2.15L659.35 3.70L657.80 5.25Z" fill="#484848"/>
<text x="664.80" y="5.45" transform="rotate(0.06 664.80 5.45)" font-size="4.8" text-anchor="start" textLength="10.4" lengthAdjust="spacingAndGlyphs">Loss</text>
<path d="M663.40 0.70h11.8" stroke="#888" stroke-width="0.9"/>
<path d="M651.80 9.8H663.30" stroke="#f41c1c" stroke-width="0.55"/>
<path d="M656.25 9.80L657.80 8.25L659.35 9.80L657.80 11.35Z" fill="#f41c1c"/>
<text x="664.80" y="11.55" transform="rotate(0.06 664.80 11.55)" font-size="4.8" text-anchor="start" textLength="19.7" lengthAdjust="spacingAndGlyphs">Val Loss</text>
<path d="M663.40 7.40h21.099999999999998" stroke="#444" stroke-width="0.55"/>
</g>
<text x="603.9" y="145.6" transform="rotate(0.06 603.9 145.6)" font-size="9.3" font-family='"Liberation Sans",sans-serif' text-anchor="middle" stroke="none" textLength="7.2" lengthAdjust="spacingAndGlyphs">(l)</text></g>
<g><path d="M102.75 177.25V271.45H218.68" fill="none" stroke="#2a2a2a" stroke-width="0.6"/>
<path d="M111.10 271.45v1.8M127.65 271.45v1.8M144.20 271.45v1.8M160.75 271.45v1.8M177.30 271.45v1.8M193.85 271.45v1.8M210.40 271.45v1.8M119.38 271.45v0.8M135.92 271.45v0.8M152.47 271.45v0.8M169.03 271.45v0.8M185.57 271.45v0.8M202.12 271.45v0.8M218.68 271.45v0.8M102.75 185.80h-1.7M102.75 202.92h-1.7M102.75 220.04h-1.7M102.75 237.16h-1.7M102.75 254.28h-1.7M102.75 271.40h-1.7M102.75 194.36h-0.9M102.75 211.48h-0.9M102.75 228.60h-0.9M102.75 245.72h-0.9M102.75 262.84h-0.9M102.75 177.24h-0.9" fill="none" stroke="#2a2a2a" stroke-width="0.6"/>
<text x="111.10" y="277.85" transform="rotate(0.06 111.10 277.85)" font-size="4.2" text-anchor="middle" class="t">0</text>
<text x="127.65" y="277.85" transform="rotate(0.06 127.65 277.85)" font-size="4.2" text-anchor="middle" class="t">5</text>
<text x="144.20" y="277.85" transform="rotate(0.06 144.20 277.85)" font-size="4.2" text-anchor="middle" class="t">10</text>
<text x="160.75" y="277.85" transform="rotate(0.06 160.75 277.85)" font-size="4.2" text-anchor="middle" class="t">15</text>
<text x="177.30" y="277.85" transform="rotate(0.06 177.30 277.85)" font-size="4.2" text-anchor="middle" class="t">20</text>
<text x="193.85" y="277.85" transform="rotate(0.06 193.85 277.85)" font-size="4.2" text-anchor="middle" class="t">25</text>
<text x="210.40" y="277.85" transform="rotate(0.06 210.40 277.85)" font-size="4.2" text-anchor="middle" class="t">30</text>
<text x="100.35" y="187.30" transform="rotate(0.06 100.35 187.30)" font-size="4.2" text-anchor="end" class="t">0.9</text>
<text x="100.35" y="204.42" transform="rotate(0.06 100.35 204.42)" font-size="4.2" text-anchor="end" class="t">0.8</text>
<text x="100.35" y="221.54" transform="rotate(0.06 100.35 221.54)" font-size="4.2" text-anchor="end" class="t">0.7</text>
<text x="100.35" y="238.66" transform="rotate(0.06 100.35 238.66)" font-size="4.2" text-anchor="end" class="t">0.6</text>
<text x="100.35" y="255.78" transform="rotate(0.06 100.35 255.78)" font-size="4.2" text-anchor="end" class="t">0.5</text>
<text x="100.35" y="272.90" transform="rotate(0.06 100.35 272.90)" font-size="4.2" text-anchor="end" class="t">0.4</text>
<path d="M114.41 257.60L117.72 214.10L121.03 201.90L124.34 196.20L127.65 193.50L130.96 195.60L134.27 192.20L137.58 189.80L140.89 189.80L144.20 188.30L147.51 187.10L150.82 187.50L154.13 187.10L157.44 185.80L160.75 185.90L164.06 185.80L167.37 185.50L170.68 186.60L173.99 185.10L177.30 185.00L180.61 184.60L183.92 185.10L187.23 185.90L190.54 185.80L193.85 185.00L197.16 184.60L200.47 185.50L203.78 185.00L207.09 185.10L210.40 185.90" fill="none" stroke="#484848" stroke-width="0.55" stroke-linejoin="round"/>
<path d="M112.86 257.60L114.41 256.05L115.96 257.60L114.41 259.15ZM116.17 214.10L117.72 212.55L119.27 214.10L117.72 215.65ZM119.48 201.90L121.03 200.35L122.58 201.90L121.03 203.45ZM122.79 196.20L124.34 194.65L125.89 196.20L124.34 197.75ZM126.10 193.50L127.65 191.95L129.20 193.50L127.65 195.05ZM129.41 195.60L130.96 194.05L132.51 195.60L130.96 197.15ZM132.72 192.20L134.27 190.65L135.82 192.20L134.27 193.75ZM136.03 189.80L137.58 188.25L139.13 189.80L137.58 191.35ZM139.34 189.80L140.89 188.25L142.44 189.80L140.89 191.35ZM142.65 188.30L144.20 186.75L145.75 188.30L144.20 189.85ZM145.96 187.10L147.51 185.55L149.06 187.10L147.51 188.65ZM149.27 187.50L150.82 185.95L152.37 187.50L150.82 189.05ZM152.58 187.10L154.13 185.55L155.68 187.10L154.13 188.65ZM155.89 185.80L157.44 184.25L158.99 185.80L157.44 187.35ZM159.20 185.90L160.75 184.35L162.30 185.90L160.75 187.45ZM162.51 185.80L164.06 184.25L165.61 185.80L164.06 187.35ZM165.82 185.50L167.37 183.95L168.92 185.50L167.37 187.05ZM169.13 186.60L170.68 185.05L172.23 186.60L170.68 188.15ZM172.44 185.10L173.99 183.55L175.54 185.10L173.99 186.65ZM175.75 185.00L177.30 183.45L178.85 185.00L177.30 186.55ZM179.06 184.60L180.61 183.05L182.16 184.60L180.61 186.15ZM182.37 185.10L183.92 183.55L185.47 185.10L183.92 186.65ZM185.68 185.90L187.23 184.35L188.78 185.90L187.23 187.45ZM188.99 185.80L190.54 184.25L192.09 185.80L190.54 187.35ZM192.30 185.00L193.85 183.45L195.40 185.00L193.85 186.55ZM195.61 184.60L197.16 183.05L198.71 184.60L197.16 186.15ZM198.92 185.50L200.47 183.95L202.02 185.50L200.47 187.05ZM202.23 185.00L203.78 183.45L205.33 185.00L203.78 186.55ZM205.54 185.10L207.09 183.55L208.64 185.10L207.09 186.65ZM208.85 185.90L210.40 184.35L211.95 185.90L210.40 187.45Z" fill="#484848" stroke="none"/>
<path d="M114.41 226.40L117.72 205.10L121.03 193.80L124.34 191.90L127.65 193.00L130.96 192.20L134.27 191.90L137.58 191.10L140.89 187.50L144.20 193.50L147.51 188.30L150.82 187.90L154.13 185.90L157.44 186.30L160.75 185.90L164.06 186.70L167.37 186.30L170.68 186.70L173.99 184.60L177.30 185.90L180.61 185.10L183.92 185.50L187.23 186.30L190.54 185.90L193.85 187.50L197.16 185.00L200.47 185.50L203.78 184.60L207.09 185.90L210.40 185.00" fill="none" stroke="#f41c1c" stroke-width="0.55" stroke-linejoin="round"/>
<path d="M112.86 226.40L114.41 224.85L115.96 226.40L114.41 227.95ZM116.17 205.10L117.72 203.55L119.27 205.10L117.72 206.65ZM119.48 193.80L121.03 192.25L122.58 193.80L121.03 195.35ZM122.79 191.90L124.34 190.35L125.89 191.90L124.34 193.45ZM126.10 193.00L127.65 191.45L129.20 193.00L127.65 194.55ZM129.41 192.20L130.96 190.65L132.51 192.20L130.96 193.75ZM132.72 191.90L134.27 190.35L135.82 191.90L134.27 193.45ZM136.03 191.10L137.58 189.55L139.13 191.10L137.58 192.65ZM139.34 187.50L140.89 185.95L142.44 187.50L140.89 189.05ZM142.65 193.50L144.20 191.95L145.75 193.50L144.20 195.05ZM145.96 188.30L147.51 186.75L149.06 188.30L147.51 189.85ZM149.27 187.90L150.82 186.35L152.37 187.90L150.82 189.45ZM152.58 185.90L154.13 184.35L155.68 185.90L154.13 187.45ZM155.89 186.30L157.44 184.75L158.99 186.30L157.44 187.85ZM159.20 185.90L160.75 184.35L162.30 185.90L160.75 187.45ZM162.51 186.70L164.06 185.15L165.61 186.70L164.06 188.25ZM165.82 186.30L167.37 184.75L168.92 186.30L167.37 187.85ZM169.13 186.70L170.68 185.15L172.23 186.70L170.68 188.25ZM172.44 184.60L173.99 183.05L175.54 184.60L173.99 186.15ZM175.75 185.90L177.30 184.35L178.85 185.90L177.30 187.45ZM179.06 185.10L180.61 183.55L182.16 185.10L180.61 186.65ZM182.37 185.50L183.92 183.95L185.47 185.50L183.92 187.05ZM185.68 186.30L187.23 184.75L188.78 186.30L187.23 187.85ZM188.99 185.90L190.54 184.35L192.09 185.90L190.54 187.45ZM192.30 187.50L193.85 185.95L195.40 187.50L193.85 189.05ZM195.61 185.00L197.16 183.45L198.71 185.00L197.16 186.55ZM198.92 185.50L200.47 183.95L202.02 185.50L200.47 187.05ZM202.23 184.60L203.78 183.05L205.33 184.60L203.78 186.15ZM205.54 185.90L207.09 184.35L208.64 185.90L207.09 187.45ZM208.85 185.00L210.40 183.45L211.95 185.00L210.40 186.55Z" fill="#f41c1c" stroke="none"/>
<rect x="153.9" y="280.2" width="13.9" height="5.05" fill="#d9d9d9"/>
<path d="M153.9 280.50h13.9" stroke="#aaa" stroke-width="0.5"/>
<text x="160.85" y="284.60" transform="rotate(0.06 160.85 284.60)" font-size="4.8" text-anchor="middle" textLength="13.8" lengthAdjust="spacingAndGlyphs" font-style="italic">Epoch</text>
<text transform="translate(92.80 224.2) rotate(-89.94)" font-size="4.8" text-anchor="middle" textLength="20" lengthAdjust="spacingAndGlyphs" font-style="italic">Accuracy</text>
<path d="M88.60 214.20V234.20" fill="none" stroke="#2a2a2a" stroke-width="0.6"/>
<text x="161.10" y="170.35" transform="rotate(0.06 161.10 170.35)" font-size="4.8" text-anchor="middle" textLength="91" lengthAdjust="spacingAndGlyphs">Temporal Convolutional Network Accuracy</text>
<path d="M115.60 166.40h91" stroke="#2a2a2a" stroke-width="0.6"/>
<text x="161.00" y="176.35" transform="rotate(0.06 161.00 176.35)" font-size="4.8" text-anchor="middle" textLength="13.6" lengthAdjust="spacingAndGlyphs">Graph</text>
<path d="M154.20 172.40h13.6" stroke="#999" stroke-width="0.6"/>
<clipPath id="cl197"><rect x="197.45" y="250.25" width="42.30" height="12.70"/></clipPath>
<rect x="197.45" y="250.25" width="42.30" height="12.70" fill="#fff" stroke="#909090" stroke-width="0.55"/>
<g clip-path="url(#cl197)">
<path d="M197.95 253.75H209.30" stroke="#484848" stroke-width="0.55"/>
<path d="M202.05 253.75L203.60 252.20L205.15 253.75L203.60 255.30Z" fill="#484848"/>
<text x="210.80" y="255.50" transform="rotate(0.06 210.80 255.50)" font-size="4.8" text-anchor="start" textLength="19.5" lengthAdjust="spacingAndGlyphs" font-style="italic">Accuracy</text>
<path d="M209.40 251.10h20.9" stroke="#888" stroke-width="0.9"/>
<path d="M197.95 259.45H209.30" stroke="#f41c1c" stroke-width="0.55"/>
<path d="M202.05 259.45L203.60 257.90L205.15 259.45L203.60 261.00Z" fill="#f41c1c"/>
<text x="210.80" y="261.20" transform="rotate(0.06 210.80 261.20)" font-size="4.8" text-anchor="start" textLength="27.8" lengthAdjust="spacingAndGlyphs" font-style="italic">Val Accuracy</text>
<path d="M209.40 256.70h29.2" stroke="#444" stroke-width="0.55"/>
</g>
<text x="157.55" y="309.6" transform="rotate(0.06 157.55 309.6)" font-size="9.5" font-family='"Liberation Sans",sans-serif' text-anchor="middle" stroke="none" textLength="12.9" lengthAdjust="spacingAndGlyphs">(m)</text></g>
<g><path d="M457.0 178.20V276.1H579.03" fill="none" stroke="#2a2a2a" stroke-width="0.6"/>
<path d="M465.70 276.1v1.8M483.13 276.1v1.8M500.57 276.1v1.8M518.00 276.1v1.8M535.44 276.1v1.8M552.88 276.1v1.8M570.31 276.1v1.8M474.42 276.1v0.8M491.85 276.1v0.8M509.29 276.1v0.8M526.72 276.1v0.8M544.16 276.1v0.8M561.59 276.1v0.8M579.03 276.1v0.8M457.0 178.20h-1.7M457.0 192.19h-1.7M457.0 206.17h-1.7M457.0 220.16h-1.7M457.0 234.14h-1.7M457.0 248.13h-1.7M457.0 262.11h-1.7M457.0 276.10h-1.7M457.0 185.19h-0.9M457.0 199.18h-0.9M457.0 213.16h-0.9M457.0 227.15h-0.9M457.0 241.14h-0.9M457.0 255.12h-0.9M457.0 269.11h-0.9" fill="none" stroke="#2a2a2a" stroke-width="0.6"/>
<text x="465.70" y="282.80" transform="rotate(0.06 465.70 282.80)" font-size="4.2" text-anchor="middle" class="t">0</text>
<text x="483.13" y="282.80" transform="rotate(0.06 483.13 282.80)" font-size="4.2" text-anchor="middle" class="t">5</text>
<text x="500.57" y="282.80" transform="rotate(0.06 500.57 282.80)" font-size="4.2" text-anchor="middle" class="t">10</text>
<text x="518.00" y="282.80" transform="rotate(0.06 518.00 282.80)" font-size="4.2" text-anchor="middle" class="t">15</text>
<text x="535.44" y="282.80" transform="rotate(0.06 535.44 282.80)" font-size="4.2" text-anchor="middle" class="t">20</text>
<text x="552.88" y="282.80" transform="rotate(0.06 552.88 282.80)" font-size="4.2" text-anchor="middle" class="t">25</text>
<text x="570.31" y="282.80" transform="rotate(0.06 570.31 282.80)" font-size="4.2" text-anchor="middle" class="t">30</text>
<text x="454.30" y="179.70" transform="rotate(0.06 454.30 179.70)" font-size="4.2" text-anchor="end" class="t">1.4</text>
<text x="454.30" y="193.69" transform="rotate(0.06 454.30 193.69)" font-size="4.2" text-anchor="end" class="t">1.2</text>
<text x="454.30" y="207.67" transform="rotate(0.06 454.30 207.67)" font-size="4.2" text-anchor="end" class="t">1.0</text>
<text x="454.30" y="221.66" transform="rotate(0.06 454.30 221.66)" font-size="4.2" text-anchor="end" class="t">0.8</text>
<text x="454.30" y="235.64" transform="rotate(0.06 454.30 235.64)" font-size="4.2" text-anchor="end" class="t">0.6</text>
<text x="454.30" y="249.63" transform="rotate(0.06 454.30 249.63)" font-size="4.2" text-anchor="end" class="t">0.4</text>
<text x="454.30" y="263.61" transform="rotate(0.06 454.30 263.61)" font-size="4.2" text-anchor="end" class="t">0.2</text>
<text x="454.30" y="277.60" transform="rotate(0.06 454.30 277.60)" font-size="4.2" text-anchor="end" class="t">0.0</text>
<path d="M469.19 188.40L472.67 236.50L476.16 249.70L479.65 253.80L483.13 257.10L486.62 254.20L490.11 258.20L493.60 261.10L497.08 260.60L500.57 262.70L504.06 263.00L507.54 263.00L511.03 263.30L514.52 264.30L518.00 264.60L521.49 263.80L524.98 264.60L528.47 263.30L531.95 265.10L535.44 265.10L538.93 264.90L542.41 265.10L545.90 264.60L549.39 265.70L552.88 265.40L556.36 265.40L559.85 265.10L563.34 265.40L566.82 265.40L570.31 264.10" fill="none" stroke="#484848" stroke-width="0.55" stroke-linejoin="round"/>
<path d="M467.64 188.40L469.19 186.85L470.74 188.40L469.19 189.95ZM471.12 236.50L472.67 234.95L474.22 236.50L472.67 238.05ZM474.61 249.70L476.16 248.15L477.71 249.70L476.16 251.25ZM478.10 253.80L479.65 252.25L481.20 253.80L479.65 255.35ZM481.58 257.10L483.13 255.55L484.69 257.10L483.13 258.65ZM485.07 254.20L486.62 252.65L488.17 254.20L486.62 255.75ZM488.56 258.20L490.11 256.65L491.66 258.20L490.11 259.75ZM492.05 261.10L493.60 259.55L495.15 261.10L493.60 262.65ZM495.53 260.60L497.08 259.05L498.63 260.60L497.08 262.15ZM499.02 262.70L500.57 261.15L502.12 262.70L500.57 264.25ZM502.51 263.00L504.06 261.45L505.61 263.00L504.06 264.55ZM505.99 263.00L507.54 261.45L509.09 263.00L507.54 264.55ZM509.48 263.30L511.03 261.75L512.58 263.30L511.03 264.85ZM512.97 264.30L514.52 262.75L516.07 264.30L514.52 265.85ZM516.46 264.60L518.00 263.05L519.55 264.60L518.00 266.15ZM519.94 263.80L521.49 262.25L523.04 263.80L521.49 265.35ZM523.43 264.60L524.98 263.05L526.53 264.60L524.98 266.15ZM526.92 263.30L528.47 261.75L530.02 263.30L528.47 264.85ZM530.40 265.10L531.95 263.55L533.50 265.10L531.95 266.65ZM533.89 265.10L535.44 263.55L536.99 265.10L535.44 266.65ZM537.38 264.90L538.93 263.35L540.48 264.90L538.93 266.45ZM540.86 265.10L542.41 263.55L543.96 265.10L542.41 266.65ZM544.35 264.60L545.90 263.05L547.45 264.60L545.90 266.15ZM547.84 265.70L549.39 264.15L550.94 265.70L549.39 267.25ZM551.33 265.40L552.88 263.85L554.42 265.40L552.88 266.95ZM554.81 265.40L556.36 263.85L557.91 265.40L556.36 266.95ZM558.30 265.10L559.85 263.55L561.40 265.10L559.85 266.65ZM561.79 265.40L563.34 263.85L564.89 265.40L563.34 266.95ZM565.27 265.40L566.82 263.85L568.37 265.40L566.82 266.95ZM568.76 264.10L570.31 262.55L571.86 264.10L570.31 265.65Z" fill="#484848" stroke="none"/>
<path d="M469.19 225.30L472.67 246.10L476.16 256.10L479.65 257.70L483.13 258.20L486.62 256.60L490.11 257.90L493.60 258.70L497.08 262.20L500.57 254.60L504.06 262.70L507.54 261.70L511.03 265.10L514.52 264.30L518.00 263.80L521.49 263.50L524.98 264.60L528.47 264.60L531.95 265.40L535.44 263.50L538.93 264.60L542.41 265.40L545.90 264.60L549.39 263.30L552.88 263.30L556.36 265.40L559.85 265.10L563.34 265.40L566.82 263.30L570.31 265.10" fill="none" stroke="#f41c1c" stroke-width="0.55" stroke-linejoin="round"/>
<path d="M467.64 225.30L469.19 223.75L470.74 225.30L469.19 226.85ZM471.12 246.10L472.67 244.55L474.22 246.10L472.67 247.65ZM474.61 256.10L476.16 254.55L477.71 256.10L476.16 257.65ZM478.10 257.70L479.65 256.15L481.20 257.70L479.65 259.25ZM481.58 258.20L483.13 256.65L484.69 258.20L483.13 259.75ZM485.07 256.60L486.62 255.05L488.17 256.60L486.62 258.15ZM488.56 257.90L490.11 256.35L491.66 257.90L490.11 259.45ZM492.05 258.70L493.60 257.15L495.15 258.70L493.60 260.25ZM495.53 262.20L497.08 260.65L498.63 262.20L497.08 263.75ZM499.02 254.60L500.57 253.05L502.12 254.60L500.57 256.15ZM502.51 262.70L504.06 261.15L505.61 262.70L504.06 264.25ZM505.99 261.70L507.54 260.15L509.09 261.70L507.54 263.25ZM509.48 265.10L511.03 263.55L512.58 265.10L511.03 266.65ZM512.97 264.30L514.52 262.75L516.07 264.30L514.52 265.85ZM516.46 263.80L518.00 262.25L519.55 263.80L518.00 265.35ZM519.94 263.50L521.49 261.95L523.04 263.50L521.49 265.05ZM523.43 264.60L524.98 263.05L526.53 264.60L524.98 266.15ZM526.92 264.60L528.47 263.05L530.02 264.60L528.47 266.15ZM530.40 265.40L531.95 263.85L533.50 265.40L531.95 266.95ZM533.89 263.50L535.44 261.95L536.99 263.50L535.44 265.05ZM537.38 264.60L538.93 263.05L540.48 264.60L538.93 266.15ZM540.86 265.40L542.41 263.85L543.96 265.40L542.41 266.95ZM544.35 264.60L545.90 263.05L547.45 264.60L545.90 266.15ZM547.84 263.30L549.39 261.75L550.94 263.30L549.39 264.85ZM551.33 263.30L552.88 261.75L554.42 263.30L552.88 264.85ZM554.81 265.40L556.36 263.85L557.91 265.40L556.36 266.95ZM558.30 265.10L559.85 263.55L561.40 265.10L559.85 266.65ZM561.79 265.40L563.34 263.85L564.89 265.40L563.34 266.95ZM565.27 263.30L566.82 261.75L568.37 263.30L566.82 264.85ZM568.76 265.10L570.31 263.55L571.86 265.10L570.31 266.65Z" fill="#f41c1c" stroke="none"/>
<rect x="510.9" y="285.2" width="14.5" height="5.3" fill="#d9d9d9"/>
<path d="M510.9 285.50h14.5" stroke="#aaa" stroke-width="0.5"/>
<text x="518.20" y="290.10" transform="rotate(0.06 518.20 290.10)" font-size="4.8" text-anchor="middle" textLength="13.8" lengthAdjust="spacingAndGlyphs">Epoch</text>
<text transform="translate(445.70 227.2) rotate(-89.94)" font-size="4.8" text-anchor="middle" textLength="10.6" lengthAdjust="spacingAndGlyphs">Loss</text>
<path d="M441.50 221.90V232.50" fill="none" stroke="#2a2a2a" stroke-width="0.6"/>
<text x="518.20" y="170.55" transform="rotate(0.06 518.20 170.55)" font-size="4.8" text-anchor="middle" textLength="86.4" lengthAdjust="spacingAndGlyphs">Temporal Convolutional Network Loss</text>
<path d="M475.00 166.40h86.4" stroke="#2a2a2a" stroke-width="0.6"/>
<text x="518.00" y="176.55" transform="rotate(0.06 518.00 176.55)" font-size="4.8" text-anchor="middle" textLength="13.6" lengthAdjust="spacingAndGlyphs">Graph</text>
<path d="M511.20 172.60h13.6" stroke="#2a2a2a" stroke-width="0.6"/>
<clipPath id="cl554"><rect x="554.6" y="237.4" width="33.90" height="13.40"/></clipPath>
<rect x="554.6" y="237.4" width="33.90" height="13.40" fill="#fff" stroke="#909090" stroke-width="0.55"/>
<g clip-path="url(#cl554)">
<path d="M555.10 241.45H566.70" stroke="#484848" stroke-width="0.55"/>
<path d="M559.95 241.45L561.50 239.90L563.05 241.45L561.50 243.00Z" fill="#484848"/>
<text x="568.20" y="243.20" transform="rotate(0.06 568.20 243.20)" font-size="4.8" text-anchor="start" textLength="10.8" lengthAdjust="spacingAndGlyphs">Loss</text>
<path d="M566.80 238.30h12.200000000000001" stroke="#888" stroke-width="0.9"/>
<path d="M555.10 247.75H566.70" stroke="#f41c1c" stroke-width="0.55"/>
<path d="M559.95 247.75L561.50 246.20L563.05 247.75L561.50 249.30Z" fill="#f41c1c"/>
<text x="568.20" y="249.50" transform="rotate(0.06 568.20 249.50)" font-size="4.8" text-anchor="start" textLength="19.8" lengthAdjust="spacingAndGlyphs">Val Loss</text>
<path d="M566.80 245.20h21.2" stroke="#444" stroke-width="0.55"/>
</g>
<text x="514.6" y="314.7" transform="rotate(0.06 514.6 314.7)" font-size="9.6" font-family='"Liberation Serif",serif' text-anchor="middle" stroke="none">(n)</text></g>
</svg>
</body></html>
